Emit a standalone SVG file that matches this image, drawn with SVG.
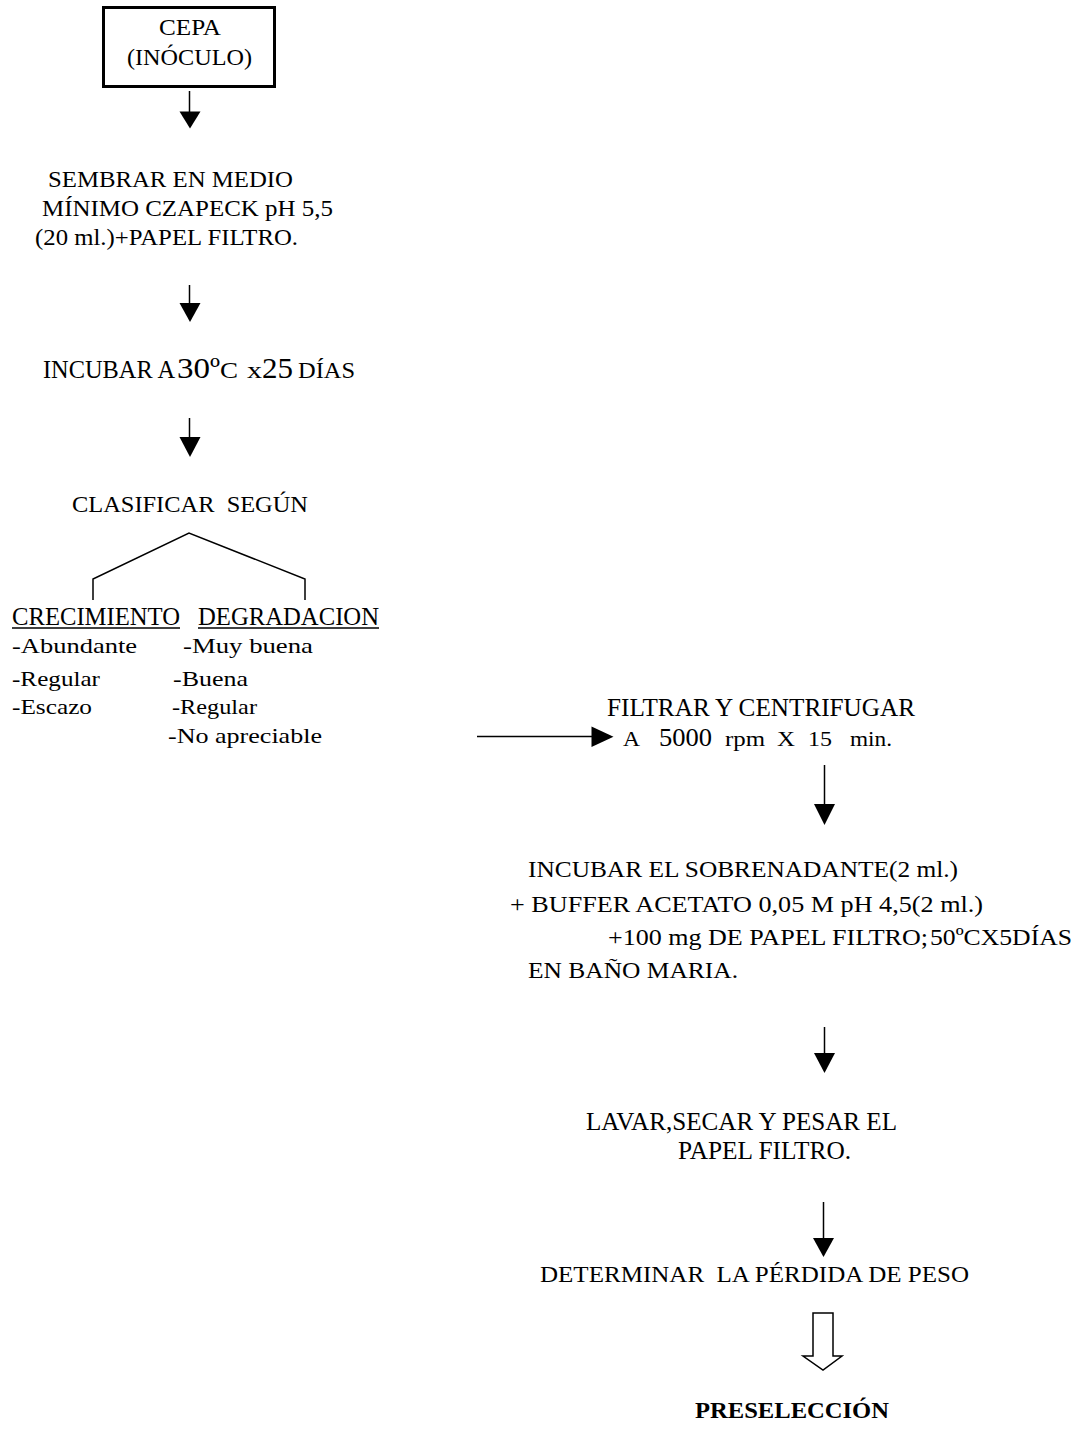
<svg xmlns="http://www.w3.org/2000/svg" width="1079" height="1430" viewBox="0 0 1079 1430">
<style>
text{font-family:"Liberation Serif","Times New Roman",serif;fill:#000;white-space:pre}
.t{font-size:23px}
.s{font-size:21px}
.b{font-weight:bold}
.ln{stroke:#000;stroke-width:1.5;fill:none}
.hd{fill:#000;stroke:none}
.box{fill:none;stroke:#000;stroke-width:3}
.hollow{fill:#fff;stroke:#000;stroke-width:1.5}
</style>
<rect x="0" y="0" width="1079" height="1430" fill="#fff"/>

<g id="cepa">
<rect class="box" x="103.5" y="7.5" width="171" height="79"/>
<text class="t" x="159" y="35" textLength="62" lengthAdjust="spacingAndGlyphs">CEPA</text>
<text class="t" x="127" y="65" textLength="125" lengthAdjust="spacingAndGlyphs">(INÓCULO)</text>
</g>

<g id="sembrar">
<text class="t" x="48" y="187" textLength="245" lengthAdjust="spacingAndGlyphs">SEMBRAR EN MEDIO</text>
<text class="t" x="42" y="216" textLength="291" lengthAdjust="spacingAndGlyphs">MÍNIMO CZAPECK pH 5,5</text>
<text class="t" x="35" y="245" textLength="263" lengthAdjust="spacingAndGlyphs">(20 ml.)+PAPEL FILTRO.</text>
</g>

<g id="incubar">
<text style="font-size:25px" x="43" y="378" textLength="132" lengthAdjust="spacingAndGlyphs">INCUBAR A</text>
<text style="font-size:30px" x="177" y="378" textLength="33" lengthAdjust="spacingAndGlyphs">30</text>
<text style="font-size:30px" x="210" y="378" textLength="10" lengthAdjust="spacingAndGlyphs">º</text>
<text style="font-size:23px" x="220" y="378" textLength="18" lengthAdjust="spacingAndGlyphs">C</text>
<text style="font-size:23px" x="247" y="378" textLength="15" lengthAdjust="spacingAndGlyphs">x</text>
<text style="font-size:30px" x="262" y="378" textLength="31" lengthAdjust="spacingAndGlyphs">25</text>
<text style="font-size:24px" x="298" y="378" textLength="57" lengthAdjust="spacingAndGlyphs">DÍAS</text>
</g>

<g id="clasificar">
<text style="font-size:24px" x="72" y="512" textLength="236" lengthAdjust="spacingAndGlyphs">CLASIFICAR  SEGÚN</text>
</g>

<g id="crecimiento">
<text style="font-size:25px" x="12" y="625" textLength="168" lengthAdjust="spacingAndGlyphs">CRECIMIENTO</text>
<line class="ln" x1="12" y1="628" x2="180" y2="628" style="stroke-width:1.3"/>
<text class="s" x="12" y="653" textLength="125" lengthAdjust="spacingAndGlyphs">-Abundante</text>
<text class="s" x="12" y="686" textLength="88" lengthAdjust="spacingAndGlyphs">-Regular</text>
<text class="s" x="12" y="714" textLength="80" lengthAdjust="spacingAndGlyphs">-Escazo</text>
</g>

<g id="degradacion">
<text style="font-size:25px" x="198" y="625" textLength="181" lengthAdjust="spacingAndGlyphs">DEGRADACION</text>
<line class="ln" x1="198" y1="628" x2="379" y2="628" style="stroke-width:1.3"/>
<text class="s" x="183" y="653" textLength="130" lengthAdjust="spacingAndGlyphs">-Muy buena</text>
<text class="s" x="173" y="686" textLength="75" lengthAdjust="spacingAndGlyphs">-Buena</text>
<text class="s" x="172" y="714" textLength="85" lengthAdjust="spacingAndGlyphs">-Regular</text>
<text class="s" x="168" y="743" textLength="154" lengthAdjust="spacingAndGlyphs">-No apreciable</text>
</g>

<g id="filtrar">
<text style="font-size:25px" x="607" y="716" textLength="308" lengthAdjust="spacingAndGlyphs">FILTRAR Y CENTRIFUGAR</text>
<text class="s" x="623" y="746" textLength="17" lengthAdjust="spacingAndGlyphs">A</text>
<text style="font-size:26px" x="659" y="746" textLength="53" lengthAdjust="spacingAndGlyphs">5000</text>
<text class="s" x="725" y="746" textLength="40" lengthAdjust="spacingAndGlyphs">rpm</text>
<text class="s" x="777" y="746" textLength="18" lengthAdjust="spacingAndGlyphs">X</text>
<text class="s" x="808" y="746" textLength="24" lengthAdjust="spacingAndGlyphs">15</text>
<text class="s" x="850" y="746" textLength="42" lengthAdjust="spacingAndGlyphs">min.</text>
</g>

<g id="incubar-sobrenadante">
<text style="font-size:24px" x="528" y="877" textLength="430" lengthAdjust="spacingAndGlyphs">INCUBAR EL SOBRENADANTE(2 ml.)</text>
<text style="font-size:24px" x="510" y="912" textLength="473" lengthAdjust="spacingAndGlyphs">+ BUFFER ACETATO 0,05 M pH 4,5(2 ml.)</text>
<text style="font-size:24px" x="608" y="945" textLength="320" lengthAdjust="spacingAndGlyphs">+100 mg DE PAPEL FILTRO;</text>
<text style="font-size:24px" x="930" y="945" textLength="142" lengthAdjust="spacingAndGlyphs">50ºCX5DÍAS</text>
<text style="font-size:24px" x="528" y="978" textLength="210" lengthAdjust="spacingAndGlyphs">EN BAÑO MARIA.</text>
</g>

<g id="lavar">
<text style="font-size:25px" x="586" y="1130" textLength="311" lengthAdjust="spacingAndGlyphs">LAVAR,SECAR Y PESAR EL</text>
<text style="font-size:25px" x="678" y="1159" textLength="173" lengthAdjust="spacingAndGlyphs">PAPEL FILTRO.</text>
</g>

<g id="determinar">
<text class="t" x="540" y="1282" textLength="429" lengthAdjust="spacingAndGlyphs">DETERMINAR  LA PÉRDIDA DE PESO</text>
</g>

<g id="preseleccion">
<text class="t b" x="695" y="1418" textLength="194" lengthAdjust="spacingAndGlyphs">PRESELECCIÓN</text>
</g>

<g id="connectors">
<line class="ln" x1="189.5" y1="91" x2="189.5" y2="113"/>
<polygon class="hd" points="179.5,111.5 200.5,111.5 190,128.5"/>
<line class="ln" x1="189.5" y1="285" x2="189.5" y2="305"/>
<polygon class="hd" points="179.5,303 200.5,303 190,322"/>
<line class="ln" x1="189.5" y1="418" x2="189.5" y2="439"/>
<polygon class="hd" points="179.5,437 200.5,437 190,457"/>
<polyline class="ln" points="93,600 93,579 189,533 305,579 305,600"/>
<line class="ln" x1="477" y1="736.5" x2="594" y2="736.5"/>
<polygon class="hd" points="591.5,726.5 591.5,747 613.5,736.7"/>
<line class="ln" x1="824.5" y1="765" x2="824.5" y2="806"/>
<polygon class="hd" points="814,804 835,804 824.5,825"/>
<line class="ln" x1="824.5" y1="1027" x2="824.5" y2="1055"/>
<polygon class="hd" points="814,1053 835,1053 824.5,1073"/>
<line class="ln" x1="823.5" y1="1202" x2="823.5" y2="1240"/>
<polygon class="hd" points="813,1238 834,1238 823.5,1257"/>
<polygon class="hollow" points="813,1313 833,1313 833,1356 842,1356 823,1370 803,1356 813,1356"/>
</g>
</svg>
